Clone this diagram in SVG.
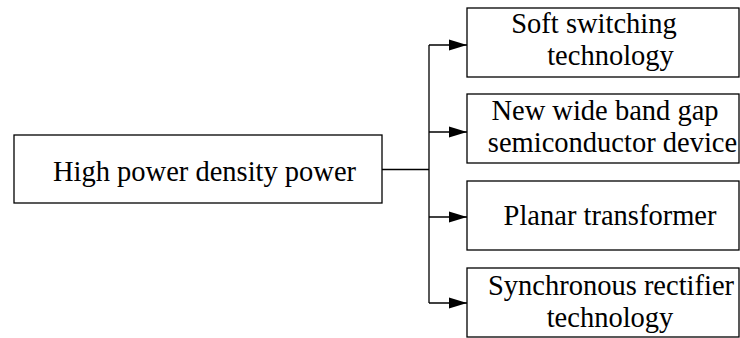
<svg xmlns="http://www.w3.org/2000/svg" width="740" height="338" viewBox="0 0 740 338">
<style>
rect{fill:#fff;stroke:#000;stroke-width:1.3}
text{font-family:'Liberation Serif','Times New Roman','DejaVu Serif',serif;font-size:28.5px;fill:#000;text-anchor:middle}
.c{fill:none;stroke:#000;stroke-width:1.3}
</style>
<defs>
<marker id="ah" markerUnits="userSpaceOnUse" markerWidth="20" markerHeight="14" refX="18" refY="6" orient="auto">
<path d="M0,0.5 L18,6 L0,11.5 Z" fill="#000"/>
</marker>
</defs>
<g id="root"><rect x="14" y="135" width="368" height="68"/><text x="204.5" y="181">High power density power</text></g>
<g id="n1"><rect x="467" y="8" width="272" height="69"/><text x="594" y="33">Soft switching</text><text x="610.5" y="65">technology</text></g>
<g id="n2"><rect x="467" y="94" width="272" height="69"/><text x="605" y="120">New wide band gap</text><text x="612.5" y="152">semiconductor device</text></g>
<g id="n3"><rect x="467" y="181" width="272" height="69"/><text x="610" y="225">Planar transformer</text></g>
<g id="n4"><rect x="467" y="268" width="272" height="69"/><text x="611" y="295">Synchronous rectifier</text><text x="610" y="327">technology</text></g>
<g id="connectors">
<path class="c" d="M382,169.5 H429 M429,45 V303"/>
<path class="c" d="M429,45 H467" marker-end="url(#ah)"/>
<path class="c" d="M429,132 H467" marker-end="url(#ah)"/>
<path class="c" d="M429,217 H467" marker-end="url(#ah)"/>
<path class="c" d="M429,303 H467" marker-end="url(#ah)"/>
</g>
</svg>
